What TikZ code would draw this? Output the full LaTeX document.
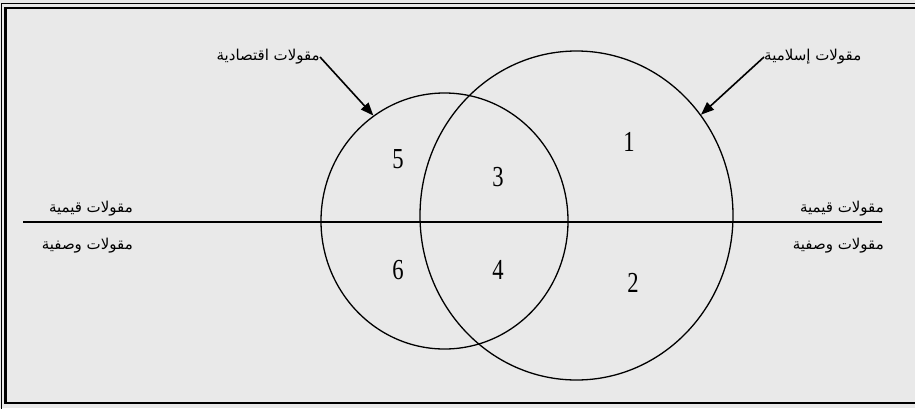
\documentclass[tikz,border=0pt]{standalone}
\usepackage{fontspec}
\setmainfont{Liberation Serif}
\newfontfamily\arabicfont[Script=Arabic]{DejaVu Sans}
\newfontfamily\numfont[FakeStretch=0.78]{Liberation Serif}
\TeXXeTstate=1
\usetikzlibrary{shapes.geometric,arrows.meta}
\begin{document}
\begin{tikzpicture}[x=1pt,y=-1pt,
  lbl/.style={inner sep=0pt,font=\arabicfont\fontsize{15}{17}\selectfont},
  num/.style={inner sep=0pt,font=\numfont\fontsize{29}{31}\selectfont},
  set/.style={draw,ellipse,inner sep=0pt,line width=1.3pt},
  pointer/.style={line width=1.6pt,-{Triangle[length=13pt,width=10pt]}}]
\useasboundingbox (0,0) rectangle (915,408);
\fill[gray!17!white] (0,0) rectangle (915,408);
% frame
\draw[line width=1.3pt] (1.5,412) -- (1.5,3.3) -- (920,3.3);
\draw[line width=2.6pt] (5.5,403) -- (5.5,8) -- (920,8);
\draw[line width=2.6pt] (4.2,403) -- (920,403);
% sets
\node[set,minimum width=247pt,minimum height=256pt] (small) at (444.5,221) {};
\node[set,minimum width=313pt,minimum height=329pt] (big) at (576.5,215.5) {};
% dividing line
\coordinate (lineL) at (23,222);
\coordinate (lineR) at (882,222);
\draw[line width=1.6pt] (lineL) -- (lineR);
% labels
\node[lbl,anchor=east] (econ) at (320,57) {\beginR مقولات اقتصادية\endR};
\node[lbl,anchor=west] (islam) at (764,57) {\beginR مقولات إسلامية\endR};
\node[lbl,anchor=east] (valL) at (133,209) {\beginR مقولات قيمية\endR};
\node[lbl,anchor=east] (descL) at (133,246) {\beginR مقولات وصفية\endR};
\node[lbl,anchor=east] (valR) at (884,209) {\beginR مقولات قيمية\endR};
\node[lbl,anchor=east] (descR) at (884,246) {\beginR مقولات وصفية\endR};
% arrows
\draw[pointer] (econ.east) -- (small.124.5);
\draw[pointer] (islam.west) -- (big.39.8);
% region numbers
\node[num] (n1) at (629,142) {1};
\node[num] (n2) at (633,283) {2};
\node[num] (n3) at (498,177) {3};
\node[num] (n4) at (498,270) {4};
\node[num] (n5) at (398,159) {5};
\node[num] (n6) at (398,270) {6};
\end{tikzpicture}
\end{document}
